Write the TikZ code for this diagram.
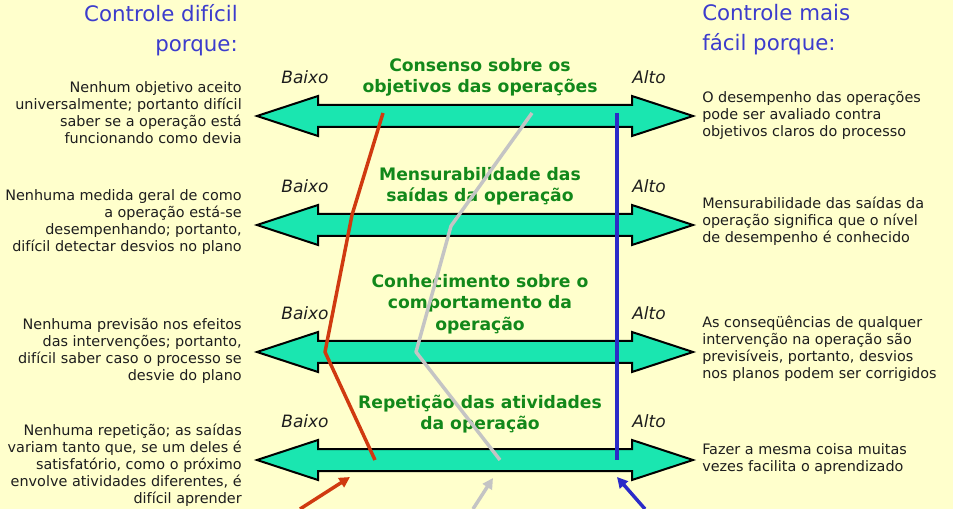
\documentclass[tikz,border=0pt]{standalone}
\usepackage{fontspec}
\setmainfont{DejaVu Sans}
\usetikzlibrary{arrows.meta,positioning}
\definecolor{paper}{HTML}{FFFFCC}
\definecolor{ink}{HTML}{1E1E1E}
\definecolor{head}{HTML}{3C3CCC}
\definecolor{dimc}{HTML}{12881A}
\definecolor{mint}{HTML}{1AE6B0}
\definecolor{lowc}{HTML}{D03A10}
\definecolor{midc}{HTML}{C4C4C4}
\definecolor{highc}{HTML}{2B2BC8}
\tikzset{
  hdr/.style={text=head, font=\fontsize{16}{22.5}\selectfont, inner sep=0pt},
  why/.style={text=ink, font=\fontsize{10.8}{12.75}\selectfont, inner sep=0pt},
  dim/.style={text=dimc, font=\fontsize{12.9}{16}\selectfont\bfseries, inner sep=0pt, align=center},
  lvl/.style={text=ink, font=\fontsize{12.75}{15}\selectfont\itshape, inner sep=0pt},
  band/.style={draw=black, line width=1.5pt, fill=mint, line join=miter},
  trace/.style={line width=2.6pt, line join=round},
  tail/.style={line width=2.6pt, -{Triangle[length=8pt,width=8pt]}},
}

\begin{document}
\begin{tikzpicture}[x=0.75pt, y=-0.75pt]
    \fill[paper] (0,0) rectangle (953,509);
    \useasboundingbox (0,0) rectangle (953,509);
    % the four double arrows
    \foreach \i/\y in {1/116,2/225,3/352,4/460}{
      \draw[band] (257,\y) -- (318,\y-20) -- (318,\y-11) -- (632,\y-11) -- (632,\y-20)
        -- (693,\y) -- (632,\y+20) -- (632,\y+11) -- (318,\y+11) -- (318,\y+20) -- cycle;
      \node[lvl] (lo\i) at (305,\y-39) {Baixo};
      \node[lvl] (hi\i) at (649,\y-39) {Alto};
    }
    % headers
    \node[hdr, anchor=east, align=right] (hl) at (238,30) {Controle difícil\\porque:};
    \node[hdr, anchor=west, align=left] (hr) at (702,30) {Controle mais\\fácil porque:};
    % dimension titles
    \node[dim] (d1) at (480,77) {Consenso sobre os\\objetivos das operações};
    \node[dim] (d2) at (480,186) {Mensurabilidade das\\saídas da operação};
    \node[dim] (d3) at (480,304) {Conhecimento sobre o\\comportamento da\\operação};
    \node[dim] (d4) at (480,414) {Repetição das atividades\\da operação};
    % left texts
    \node[why, anchor=east, align=right] (l1) at (242,113) {Nenhum objetivo aceito\\universalmente; portanto difícil\\saber se a operação está\\funcionando como devia};
    \node[why, anchor=east, align=right] (l2) at (242,222) {Nenhuma medida geral de como\\a operação está-se\\desempenhando; portanto,\\difícil detectar desvios no plano};
    \node[why, anchor=east, align=right] (l3) at (242,351) {Nenhuma previsão nos efeitos\\das intervenções; portanto,\\difícil saber caso o processo se\\desvie do plano};
    \node[why, anchor=east, align=right] (l4) at (242,465) {Nenhuma repetição; as saídas\\variam tanto que, se um deles é\\satisfatório, como o próximo\\envolve atividades diferentes, é\\difícil aprender};
    % right texts
    \node[why, anchor=west, align=left] (r1) at (702,115) {O desempenho das operações\\pode ser avaliado contra\\objetivos claros do processo};
    \node[why, anchor=west, align=left] (r2) at (702,221) {Mensurabilidade das saídas da\\operação significa que o nível\\de desempenho é conhecido};
    \node[why, anchor=west, align=left] (r3) at (702,349) {As conseqüências de qualquer\\intervenção na operação são\\previsíveis, portanto, desvios\\nos planos podem ser corrigidos};
    \node[why, anchor=west, align=left] (r4) at (702,459) {Fazer a mesma coisa muitas\\vezes facilita o aprendizado};
    % profile points
    \coordinate (a1) at (383,113); \coordinate (a2) at (352,215);
    \coordinate (a3) at (325,352); \coordinate (a4) at (375,460);
    \coordinate (b1) at (532,113); \coordinate (b2) at (451,226);
    \coordinate (b3) at (416,352); \coordinate (b4) at (500,460);
    \coordinate (c1) at (617,113); \coordinate (c4) at (617,460);
    \draw[trace, lowc] (a1) -- (a2) -- (a3) -- (a4);
    \draw[trace, midc] (b1) -- (b2) -- (b3) -- (b4);
    \draw[trace, highc, line width=3pt] (c1) -- (c4);
    % arrows coming in from below
    \coordinate (ta) at (300,509); \coordinate (ea) at (350,477);
    \coordinate (tb) at (473,509); \coordinate (eb) at (493,478);
    \coordinate (tc) at (645,509); \coordinate (ec) at (617,477);
    \draw[tail, lowc] (ta) -- (ea);
    \draw[tail, midc] (tb) -- (eb);
    \draw[tail, highc] (tc) -- (ec);
  \end{tikzpicture}
\end{document}
